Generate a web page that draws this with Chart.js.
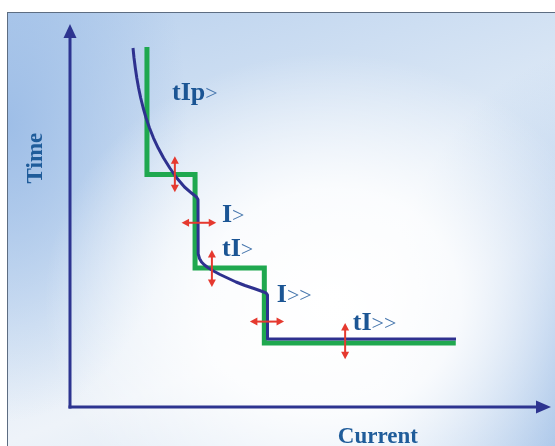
<!DOCTYPE html>
<html><head><meta charset="utf-8">
<script src="https://cdn.jsdelivr.net/npm/chart.js@4"></script>
<style>
html,body{margin:0;padding:0;background:#fff;}
#wrap{position:relative;width:555px;height:446px;overflow:hidden;background:#fff;}
#frame{position:absolute;left:7px;top:12px;width:600px;height:500px;border:1.5px solid #5d6d82;box-sizing:border-box;
background:
 radial-gradient(ellipse 48% 50% at 54% 58%, rgba(255,255,255,1) 0%, rgba(255,255,255,0.85) 45%, rgba(255,255,255,0) 100%),
 radial-gradient(ellipse 30% 60% at 0% 22%, rgba(158,190,231,1) 0%, rgba(158,190,231,0) 100%),
 radial-gradient(ellipse 38% 65% at 100% 72%, rgba(152,186,229,1) 0%, rgba(152,186,229,0) 100%),
 linear-gradient(160deg, #b8d0ed 0%, #e2ecf7 45%, #eef3f9 60%, #c9dcf1 100%);}
canvas{position:absolute;left:0;top:0;}
</style></head><body>
<div id="wrap"><div id="frame"></div><canvas id="c" width="555" height="446"></canvas></div>
<script>
// Definite-time step characteristic (green)
const currentStep = [16.0, 16.0, 26.0, 26.0, 40.4, 40.4, 80.2];
const timeStep    = [94.0, 60.7, 60.7, 36.3, 36.3, 16.7, 16.7];
// Inverse-time curve (blue)
const currentCurve = [13.10, 13.31, 13.58, 13.89, 14.26, 14.70, 15.22, 15.82, 16.53, 17.36, 18.34, 19.46, 20.75, 22.20, 23.80, 25.26, 26.30, 26.61,
                      26.65, 26.92, 27.34, 27.96, 28.79, 29.83, 31.19, 32.74, 34.51, 36.38, 38.25, 39.71, 40.75, 41.06, 41.06, 80.25];
const timeCurve    = [93.73, 91.12, 88.51, 85.90, 83.29, 80.68, 78.07, 75.46, 72.85, 70.23, 67.62, 65.01, 62.40, 59.79, 57.44, 55.87, 54.83, 54.18,
                      39.95, 38.77, 37.86, 37.08, 36.29, 35.51, 34.60, 33.68, 32.64, 31.72, 30.94, 30.29, 29.77, 29.24, 17.75, 17.75];
// Setting labels
const labelMain   = ['tIp', 'I', 'tI', 'I', 'tI'];
const labelSuffix = ['>', '>', '>', '>>', '>>'];
const labelX = [21.2, 31.6, 31.6, 43.0, 58.8];
const labelY = [80.2, 48.3, 39.4, 27.4, 20.1];
// Adjustment arrows (vertical: time settings, horizontal: current settings)
const vArrowX  = [21.8, 29.5, 57.2];
const vArrowY1 = [65.5, 41.0, 21.9];
const vArrowY2 = [56.1, 31.3, 12.5];
const hArrowY  = [48.1, 22.3];
const hArrowX1 = [23.2, 37.4];
const hArrowX2 = [30.4, 44.5];
const axisTitles = ['Time', 'Current'];

const toPts = (xs, ys) => xs.map((x, i) => ({x: x, y: ys[i]}));

const decor = {
  id: 'decor',
  beforeDatasetsDraw(chart) {
    const ctx = chart.ctx, xs = chart.scales.x, ys = chart.scales.y;
    const x0 = xs.getPixelForValue(0), y0 = ys.getPixelForValue(0);
    const xr = xs.getPixelForValue(100), yt = ys.getPixelForValue(100);
    ctx.save();
    ctx.strokeStyle = '#2d3490'; ctx.fillStyle = '#2d3490'; ctx.lineWidth = 3;
    ctx.beginPath(); ctx.moveTo(x0, y0 + 1.5); ctx.lineTo(x0, yt + 12); ctx.stroke();
    ctx.beginPath(); ctx.moveTo(x0 - 1.5, y0); ctx.lineTo(xr - 12, y0); ctx.stroke();
    ctx.beginPath(); ctx.moveTo(x0, yt); ctx.lineTo(x0 - 6.5, yt + 14); ctx.lineTo(x0 + 6.5, yt + 14); ctx.closePath(); ctx.fill();
    ctx.beginPath(); ctx.moveTo(xr, y0); ctx.lineTo(xr - 15, y0 - 6.5); ctx.lineTo(xr - 15, y0 + 6.5); ctx.closePath(); ctx.fill();
    // axis titles
    ctx.fillStyle = '#1f5c9a';
    ctx.font = 'bold 23px "Liberation Serif", "DejaVu Serif", serif';
    ctx.textAlign = 'center'; ctx.textBaseline = 'middle';
    ctx.fillText(axisTitles[1], xs.getPixelForValue(64.0), 437);
    ctx.save();
    ctx.translate(36, ys.getPixelForValue(65.0));
    ctx.rotate(-Math.PI / 2);
    ctx.fillText(axisTitles[0], 0, 0);
    ctx.restore();
    ctx.restore();
  },
  afterDatasetsDraw(chart) {
    const ctx = chart.ctx, xs = chart.scales.x, ys = chart.scales.y;
    ctx.save();
    const red = '#e5392f';
    ctx.strokeStyle = red; ctx.fillStyle = red; ctx.lineWidth = 2;
    const head = (tx, ty, dx, dy) => {
      const L = 7.5, W = 4, px = -dy, py = dx;
      ctx.beginPath();
      ctx.moveTo(tx, ty);
      ctx.lineTo(tx - dx * L + px * W, ty - dy * L + py * W);
      ctx.lineTo(tx - dx * L - px * W, ty - dy * L - py * W);
      ctx.closePath(); ctx.fill();
    };
    vArrowX.forEach((v, i) => {
      const x = xs.getPixelForValue(v), a = ys.getPixelForValue(vArrowY1[i]), b = ys.getPixelForValue(vArrowY2[i]);
      ctx.beginPath(); ctx.moveTo(x, a + 5); ctx.lineTo(x, b - 5); ctx.stroke();
      head(x, a, 0, -1); head(x, b, 0, 1);
    });
    hArrowY.forEach((v, i) => {
      const y = ys.getPixelForValue(v), a = xs.getPixelForValue(hArrowX1[i]), b = xs.getPixelForValue(hArrowX2[i]);
      ctx.beginPath(); ctx.moveTo(a + 5, y); ctx.lineTo(b - 5, y); ctx.stroke();
      head(a, y, -1, 0); head(b, y, 1, 0);
    });
    // labels
    ctx.textAlign = 'left'; ctx.textBaseline = 'alphabetic';
    labelMain.forEach((t, i) => {
      const x = xs.getPixelForValue(labelX[i]), y = ys.getPixelForValue(labelY[i]);
      ctx.font = 'bold 26px "Liberation Serif", "DejaVu Serif", serif';
      ctx.fillStyle = '#1b5594';
      ctx.fillText(t, x, y);
      const w = ctx.measureText(t).width;
      ctx.font = '22px "Liberation Serif", "DejaVu Serif", serif';
      ctx.fillStyle = '#4676ad';
      ctx.fillText(labelSuffix[i], x + w, y);
    });
    ctx.restore();
  }
};

new Chart(document.getElementById('c'), {
  type: 'line',
  data: {
    datasets: [
      { label: 'Inverse time', data: toPts(currentCurve, timeCurve), borderColor: '#2e318f', borderWidth: 3,
        pointRadius: 0, tension: 0, fill: false, borderJoinStyle: 'round', borderCapStyle: 'butt' },
      { label: 'Definite time', data: toPts(currentStep, timeStep), borderColor: '#1fa84f', borderWidth: 5,
        pointRadius: 0, tension: 0, fill: false, borderJoinStyle: 'miter', borderCapStyle: 'butt' }
    ]
  },
  options: {
    responsive: false,
    animation: false,
    devicePixelRatio: 1,
    layout: { padding: { left: 70, right: 4, top: 24, bottom: 39 } },
    plugins: { legend: { display: false }, tooltip: { enabled: false }, title: { display: false } },
    scales: {
      x: { type: 'linear', min: 0, max: 100, display: false },
      y: { type: 'linear', min: 0, max: 100, display: false }
    }
  },
  plugins: [decor]
});
</script>
</body></html>
